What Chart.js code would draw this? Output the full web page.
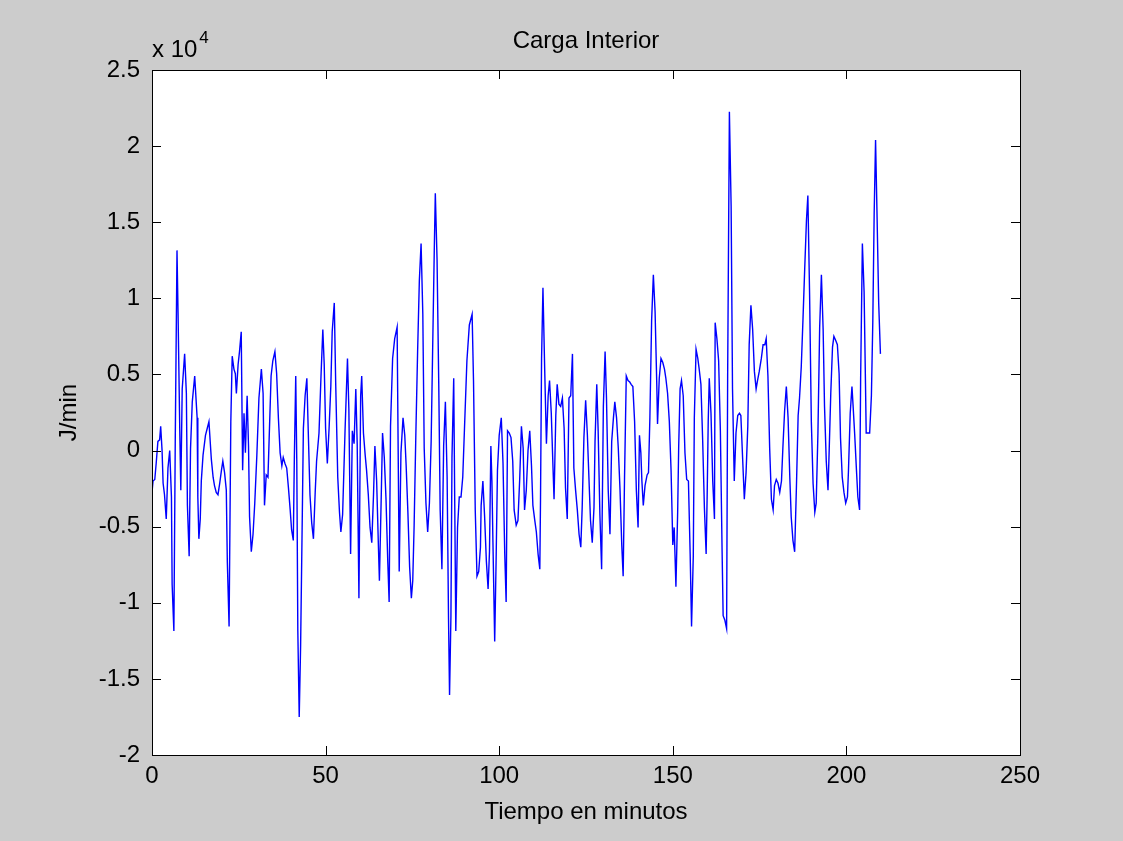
<!DOCTYPE html>
<html>
<head>
<meta charset="utf-8">
<title>Carga Interior</title>
<script src="https://cdn.jsdelivr.net/npm/chart.js@4.4.0/dist/chart.umd.min.js"></script>
<style>
  html, body { margin: 0; padding: 0; background: #cccccc; }
  #wrap { width: 1123px; height: 841px; }
</style>
</head>
<body>
<div id="wrap"><canvas id="myChart" width="1123" height="841"></canvas></div>
<script>
// tiempo (min) y carga interior (J/min)
var minutos = [
  0, 0.3, 0.8, 1.2, 1.7, 2.2, 2.5, 2.9, 3.2, 3.6, 4.1, 4.6, 5.1, 5.6, 5.8, 6.3, 6.7, 7.2, 7.5, 8.0,
  8.3, 8.7, 9.4, 9.9, 10.2, 10.7, 11.1, 11.6, 12.3, 13.0, 13.2, 13.5, 13.9, 14.2, 14.7, 15.4, 15.9, 16.4, 17.1, 17.6,
  18.0, 18.5, 19.0, 19.5, 20.0, 20.4, 20.9, 21.4, 21.7, 22.2, 22.7, 23.1, 23.6, 24.0, 24.3, 24.8, 25.2, 25.7, 26.1, 26.5,
  26.9, 27.4, 27.8, 28.1, 28.6, 29.1, 29.6, 30.2, 30.8, 31.5, 32.0, 32.4, 32.9, 33.4,
  34.3, 34.8, 35.4, 35.9, 36.4, 36.9, 37.4, 37.8, 38.3, 38.8, 39.3, 39.8, 40.2, 40.7, 41.0, 41.4, 41.7, 42.0, 42.4, 42.8,
  43.3, 43.6, 44.1, 44.6, 45.0, 45.5, 46.0, 46.5, 47.0, 47.4, 48.1, 48.7, 49.2, 49.6, 50.0, 50.5, 51.0, 51.5, 51.9, 52.5,
  52.9, 53.5, 54.0, 54.4, 54.9, 55.6, 56.3, 56.7, 57.2, 57.7, 58.2, 58.7, 59.1, 59.6, 60.1, 60.4, 60.9, 61.4, 61.8, 62.3,
  62.8, 63.3, 63.8, 64.2, 64.7, 65.2, 65.5, 66.0, 66.4, 66.9, 67.4, 67.9, 68.3, 68.7, 69.3,
  69.9, 70.6, 70.9, 71.2, 71.7, 72.3, 72.8, 73.2, 73.7, 74.2, 74.7, 75.1, 75.5, 76.0, 76.5, 77.0, 77.5, 78.0, 78.4, 78.9,
  79.4, 79.9, 80.4, 80.8, 81.3, 81.6, 82.1, 82.6, 83.0, 83.5, 84.0, 84.5, 85.0, 85.4, 85.7, 86.1, 86.4, 86.9, 87.2, 87.5,
  88.0, 88.5, 89.0, 89.5, 90.0, 90.7, 91.4, 92.2, 92.6, 93.1, 93.6, 94.1, 94.6, 94.8, 95.3, 95.8, 96.3, 96.8, 97.2, 97.6,
  97.9, 98.2, 98.7, 99.1, 99.5, 100.0, 100.6, 101.1, 101.6, 102.0, 102.4, 102.9, 103.4, 103.9, 104.3,
  104.9, 105.4, 105.9, 106.4, 106.9, 107.3, 107.8, 108.3, 108.8, 109.3, 109.7, 110.2, 110.7, 111.2, 111.7, 111.9, 112.2, 112.6, 113.1, 113.6,
  114.1, 114.5, 115.0, 115.5, 115.8, 116.3, 116.7, 117.2, 117.7, 118.2, 118.7, 119.1, 119.6, 120.1, 120.6, 121.1, 121.5, 122.0, 122.5, 123.0,
  123.5, 123.9, 124.4, 124.9, 125.4, 125.9, 126.3, 126.8, 127.3, 127.6, 128.1, 128.5, 129.0, 129.5, 130.0, 130.5, 130.9, 131.4, 131.9, 132.4,
  132.9, 133.3, 133.8, 134.3, 134.8, 135.3, 135.7, 136.1, 136.6, 137.1, 137.6, 138.0, 138.5, 139.0, 139.5, 140.0,
  140.4, 140.8, 141.1, 141.5, 142.0, 142.6, 143.0, 143.4, 143.9, 144.4, 144.9, 145.4, 145.6, 146.1, 146.6, 147.1, 147.6, 148.0, 148.5, 149.0,
  149.5, 150.0, 150.4, 150.9, 151.4, 151.7, 152.1, 152.5, 153.0, 153.5, 154.0, 154.5, 155.0, 155.4, 155.9, 156.2, 156.7, 157.2, 157.6, 158.1,
  158.6, 159.1, 159.6, 159.9, 160.2, 160.5, 161.0, 161.5, 162.0, 162.2, 162.7, 163.2, 163.7, 164.2, 164.5, 165.0, 165.5, 165.8, 166.3, 166.8,
  167.2, 167.7, 168.2, 168.7, 169.2, 169.6, 170.1, 170.6, 171.1, 171.6, 172.0, 172.5, 173.0, 173.5, 174.0, 174.4, 174.9,
  175.5, 176.0, 176.5, 176.9, 177.4, 177.9, 178.4, 178.9, 179.3, 179.8, 180.3, 180.8, 181.3, 181.7, 182.2, 182.7, 183.2, 183.7, 184.1, 184.6,
  185.1, 185.6, 186.1, 186.5, 187.0, 187.5, 188.0, 188.5, 188.9, 189.4, 189.9, 190.4, 190.9, 191.3, 191.8, 192.3, 192.8, 193.3, 193.7, 194.2,
  194.7, 195.0, 195.5, 196.0, 196.4, 196.9, 197.4, 197.9, 198.3, 198.8, 199.3, 199.8, 200.3, 200.6, 201.1, 201.6, 201.9, 202.4, 202.9, 203.3,
  203.8, 204.1, 204.6, 205.1, 205.5, 205.7, 206.2, 206.7, 207.2, 207.6, 208.0, 208.4, 208.8, 209.3, 209.8
];
var cargaInterior = [
  -2750, -2000, -1900, -850, 600, 700, 1600, 0, -2150, -2900, -4500, -1150, 0, -3050, -8800, -11850, 700, 13150, 9100, 1300,
  -2600, 4050, 6350, 3750, -3600, -6950, 150, 3200, 4900, 2150, -3050, -5800, -4500, -2000, -300, 1000, 1450, 1900, -600, -1750,
  -2300, -2750, -2900, -2150, -1300, -700, -1450, -2600, -7350, -11550, 1900, 6200, 5350, 5050, 3750, 5650, 6500, 7800, -1300, 2450,
  -150, 3600, 300, -4350, -6650, -5500, -3450, -300, 3450, 5350, 3750, -3600, -1600, -1750,
  4900, 5900, 6500, 5050, 2150, -150, -1000, -450, -850, -1150, -2450, -3900, -5200, -5900, -450, 4900, -700, -11850, -17500, -12850,
  -4050, 1450, 3600, 4750, 1300, -2900, -4750, -5800, -2750, -700, 1150, 5050, 7950, 5650, 1450, -850, 1450, 4200, 7800, 9700,
  4500, -1750, -4050, -5350, -4200, 1300, 6050, 2750, -6800, 1300, 450, 4050, 450, -9700, 3600, 4900, 1150, -300, -1300, -2900,
  -5050, -6050, -2900, 300, -2000, -6200, -8550, -3300, 1150, -450, -3200, -7250, -9950, 1600, 6050,
  7350, 8100, 0, -7950, -150, 2150, 1000, -1000, -4050, -7650, -9700, -8550, -4900, 1150, 6500, 11150, 13600, 8950, 150, -3450,
  -5350, -3450, 600, 6200, 13150, 16900, 12550, 4200, -3900, -7800, 300, 3200, -1750, -11000, -16050, -10850, -450, 4750, -3600, -11850,
  -5050, -3050, -3050, -1750, 1450, 5900, 8250, 8950, 4600, -3900, -8250, -7950, -6350, -3600, -2000, -4350, -7250, -9100, -6650, 300,
  -2000, -6050, -12550, -7350, -1300, 1000, 2150, -850, -6800, -9950, 1300, 1150, 850, -700, -3900,
  -4900, -4600, -1900, 1600, 150, -3900, -2600, 0, 1300, -1000, -3600, -4500, -5350, -6800, -7800, -3200, 6050, 10700, 5350, 450,
  3600, 4600, 2450, -1150, -3200, 2300, 4350, 3050, 2900, 3450, 1450, -2450, -4500, 3450, 3600, 6350, -1150, -2600, -3900, -5500,
  -6350, -3750, 850, 3300, 1000, -2150, -4600, -6050, -3750, 600, 4350, 1300, -4200, -7800, 2900, 6500, 3450, -2600, -5500, 600,
  2150, 3200, 2150, 150, -2600, -6200, -8250, -1750, 4900, 4600, 4500, 4350, 4200, 1900, -2600, -5050,
  1000, -150, -2000, -3600, -2300, -1600, -1450, 2150, 8550, 11550, 9100, 4200, 1750, 4750, 6050, 5800, 5350, 4750, 3750, 1900,
  -1300, -6200, -5050, -8950, -4050, 300, 4050, 4600, 3600, -150, -1900, -2000, -6800, -11550, -6950, 2150, 6650, 6050, 5350, 4350,
  700, -3750, -6800, -2900, 1900, 4750, 2450, -2000, -4500, 8400, 7350, 5900, 1300, -6650, -10850, -11150, -11700, 5050, 22250, 16050,
  4050, -2000, 1150, 2300, 2450, 2300, -450, -3200, -1450, 1600, 6950, 9550, 7950, 5200, 4050, 4600, 5200,
  6050, 6950, 6950, 7350, 4900, 150, -3200, -3900, -2300, -1900, -2150, -2750, -2000, 150, 2600, 4200, 2150, -1750, -4350, -5900,
  -6650, -2450, 2300, 3450, 5500, 8650, 12000, 15150, 16750, 10250, 1900, -2150, -4050, -3450, 1150, 8100, 11550, 7950, 2900, -700,
  -2600, -300, 3750, 6800, 7500, 7250, 6950, 5050, 850, -1750, -2750, -3450, -3050, -1300, 2450, 4200, 3050, 1000, -1300, -3050,
  -3900, 4750, 13600, 10400, 4350, 1150, 1150, 1150, 3600, 8400, 15600, 20400, 15750, 9700, 6350
];

var ejeX = { min: 0, max: 250, paso: 50 };
var ejeY = { min: -20000, max: 25000, paso: 5000 };
var titulo = 'Carga Interior';
var etiquetaX = 'Tiempo en minutos';
var etiquetaY = 'J/min';
var exponente = '4';

var fuente = '"Liberation Sans", Arial, Helvetica, sans-serif';

var puntos = minutos.map(function (t, i) {
    return { x: t, y: cargaInterior[i] };
});

// fondo gris, caja, marcas hacia adentro y textos al estilo MATLAB
var marcoMatlab = {
    id: 'marcoMatlab',
    beforeDraw: function (chart) {
        var ctx = chart.ctx, a = chart.chartArea;
        ctx.save();
        ctx.fillStyle = '#cccccc';
        ctx.fillRect(0, 0, chart.width, chart.height);
        ctx.fillStyle = '#ffffff';
        ctx.fillRect(a.left, a.top, a.right - a.left, a.bottom - a.top);
        ctx.restore();
    },
    afterDraw: function (chart) {
        var ctx = chart.ctx, a = chart.chartArea;
        var sx = chart.scales.x, sy = chart.scales.y;
        var largo = 9;
        ctx.save();
        ctx.strokeStyle = '#000000';
        ctx.lineWidth = 1;
        ctx.strokeRect(a.left + 0.5, a.top + 0.5, a.right - a.left, a.bottom - a.top);
        ctx.beginPath();
        sx.ticks.forEach(function (t) {
            var px = Math.round(sx.getPixelForValue(t.value)) + 0.5;
            ctx.moveTo(px, a.bottom); ctx.lineTo(px, a.bottom - largo);
            ctx.moveTo(px, a.top); ctx.lineTo(px, a.top + largo);
        });
        sy.ticks.forEach(function (t) {
            var py = Math.round(sy.getPixelForValue(t.value)) + 0.5;
            ctx.moveTo(a.left, py); ctx.lineTo(a.left + largo, py);
            ctx.moveTo(a.right, py); ctx.lineTo(a.right - largo, py);
        });
        ctx.stroke();

        ctx.fillStyle = '#000000';
        ctx.font = '24px ' + fuente;
        ctx.textAlign = 'center';
        ctx.textBaseline = 'alphabetic';
        var cx = (a.left + a.right) / 2;
        ctx.fillText(titulo, cx, 48);
        ctx.fillText(etiquetaX, cx, 819);

        ctx.save();
        ctx.translate(76, (a.top + a.bottom) / 2);
        ctx.rotate(-Math.PI / 2);
        ctx.fillText(etiquetaY, 0, 0);
        ctx.restore();

        ctx.textAlign = 'left';
        var base = 'x 10';
        ctx.fillText(base, a.left, 57);
        var w = ctx.measureText(base).width;
        ctx.font = '17px ' + fuente;
        ctx.fillText(exponente, a.left + w + 2, 43);
        ctx.restore();
    }
};

var ctx = document.getElementById('myChart').getContext('2d');
new Chart(ctx, {
    type: 'line',
    data: {
        datasets: [{
            label: titulo,
            data: puntos,
            borderColor: '#0000ff',
            borderWidth: 1.4,
            pointRadius: 0,
            fill: false,
            tension: 0
        }]
    },
    options: {
        responsive: false,
        animation: false,
        devicePixelRatio: 1,
        layout: { padding: { left: 0, top: 70, right: 103, bottom: 0 } },
        plugins: {
            legend: { display: false },
            tooltip: { enabled: false },
            title: { display: false }
        },
        scales: {
            x: {
                type: 'linear',
                min: ejeX.min,
                max: ejeX.max,
                grid: { display: false, drawTicks: false },
                border: { display: false },
                ticks: {
                    stepSize: ejeX.paso,
                    color: '#000000',
                    padding: 7,
                    maxRotation: 0,
                    font: { family: fuente, size: 24 }
                },
                afterFit: function (scale) { scale.height = 86; }
            },
            y: {
                min: ejeY.min,
                max: ejeY.max,
                grid: { display: false, drawTicks: false },
                border: { display: false },
                ticks: {
                    stepSize: ejeY.paso,
                    color: '#000000',
                    padding: 12,
                    font: { family: fuente, size: 24 },
                    callback: function (v) { return String(Math.round(v / 1000) / 10); }
                },
                afterFit: function (scale) { scale.width = 152; }
            }
        }
    },
    plugins: [marcoMatlab]
});
</script>
</body>
</html>
